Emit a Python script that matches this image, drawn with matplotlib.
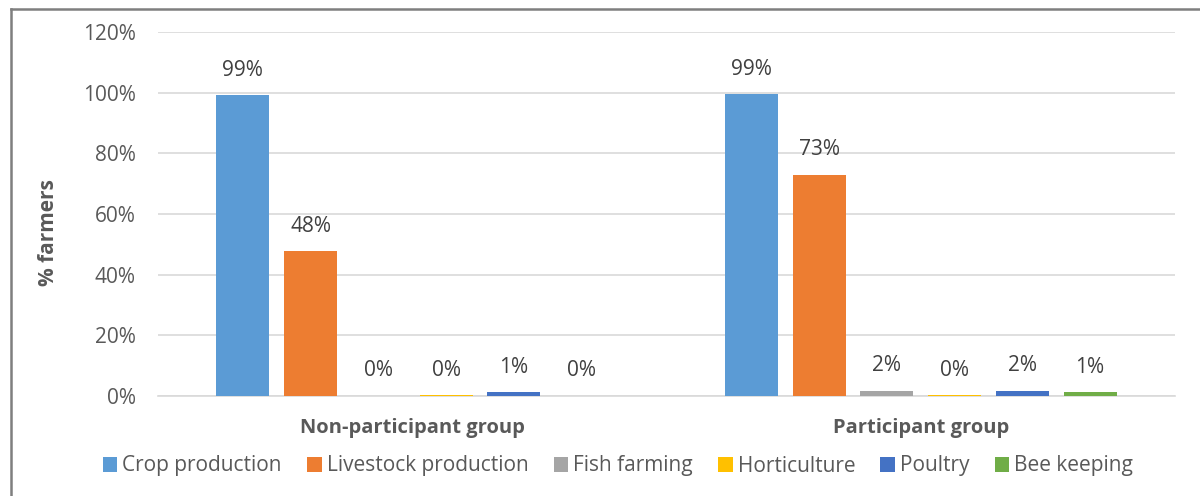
import matplotlib
matplotlib.use("Agg")
import matplotlib.pyplot as plt
import numpy as np
from matplotlib.lines import Line2D
from matplotlib.patches import Patch

groups = ["Non-participant group", "Participant group"]
enterprises = ["Crop production", "Livestock production", "Fish farming",
               "Horticulture", "Poultry", "Bee keeping"]
non_participant = [99.2, 47.8, 0.0, 0.3, 1.2, 0.0]
participant = [99.4, 72.9, 1.7, 0.2, 1.7, 1.3]
colors = ["#5B9BD5", "#ED7D31", "#A5A5A5", "#FFC000", "#4472C4", "#70AD47"]
yticks = [0, 20, 40, 60, 80, 100, 120]

TXT = "#595959"
plt.rcParams["font.family"] = ["Open Sans", "DejaVu Sans"]

fig = plt.figure(figsize=(12, 4.96), dpi=100)
ax = fig.add_axes([158/1200, 1-396/496, (1175-158)/1200, (396-32)/496])

x = np.arange(len(groups))
slot = 0.1332
width = 0.1043
for i, name in enumerate(enterprises):
    vals = [non_participant[i], participant[i]]
    pos = x + (i - 2.5) * slot
    bars = ax.bar(pos, vals, width, color=colors[i], label=name, zorder=3)
    for b, v in zip(bars, vals):
        ax.annotate(f"{v:.0f}%", (b.get_x() + b.get_width()/2, v),
                    xytext=(0, 18), textcoords="offset points",
                    ha="center", va="center", fontsize=15, color="#404040")

ax.set_xlim(-0.5, 1.5)
ax.set_ylim(0, 120)
ax.set_yticks(yticks)
ax.set_yticklabels([f"{t}%" for t in yticks], fontsize=15, color=TXT)
ax.set_xticks(x)
ax.set_xticklabels(groups, fontsize=14.5, fontweight="bold", color=TXT)
ax.tick_params(axis="y", length=0, pad=16)
ax.tick_params(axis="x", length=0, pad=16)
ax.grid(axis="y", color="#D9D9D9", linewidth=1.2, zorder=0)
for s in ["top", "right", "left"]:
    ax.spines[s].set_visible(False)
ax.spines["bottom"].set_color("#D9D9D9")
ax.spines["bottom"].set_linewidth(1.2)

ax.set_ylabel("% farmers", fontsize=15, fontweight="bold", color=TXT, va="center")
ax.yaxis.set_label_coords(-0.108, 0.45)

handles = [Patch(facecolor=c, edgecolor="none") for c in colors]
leg = fig.legend(handles, enterprises, loc="center", bbox_to_anchor=(618/1200, 1-466/496),
                 ncol=6, frameon=False, fontsize=15, handlelength=0.7, handleheight=0.7,
                 handletextpad=0.25, columnspacing=1.2, borderpad=0)
for t in leg.get_texts():
    t.set_color(TXT)

# chart border (partially cropped)
fig.add_artist(Line2D([10.5/1200, 1], [1-8.5/496, 1-8.5/496], transform=fig.transFigure,
                      color="#7F7F7F", linewidth=1.8))
fig.add_artist(Line2D([10.5/1200, 10.5/1200], [0, 1-8.5/496], transform=fig.transFigure,
                      color="#7F7F7F", linewidth=1.8))

fig.savefig("out.png", dpi=100)
